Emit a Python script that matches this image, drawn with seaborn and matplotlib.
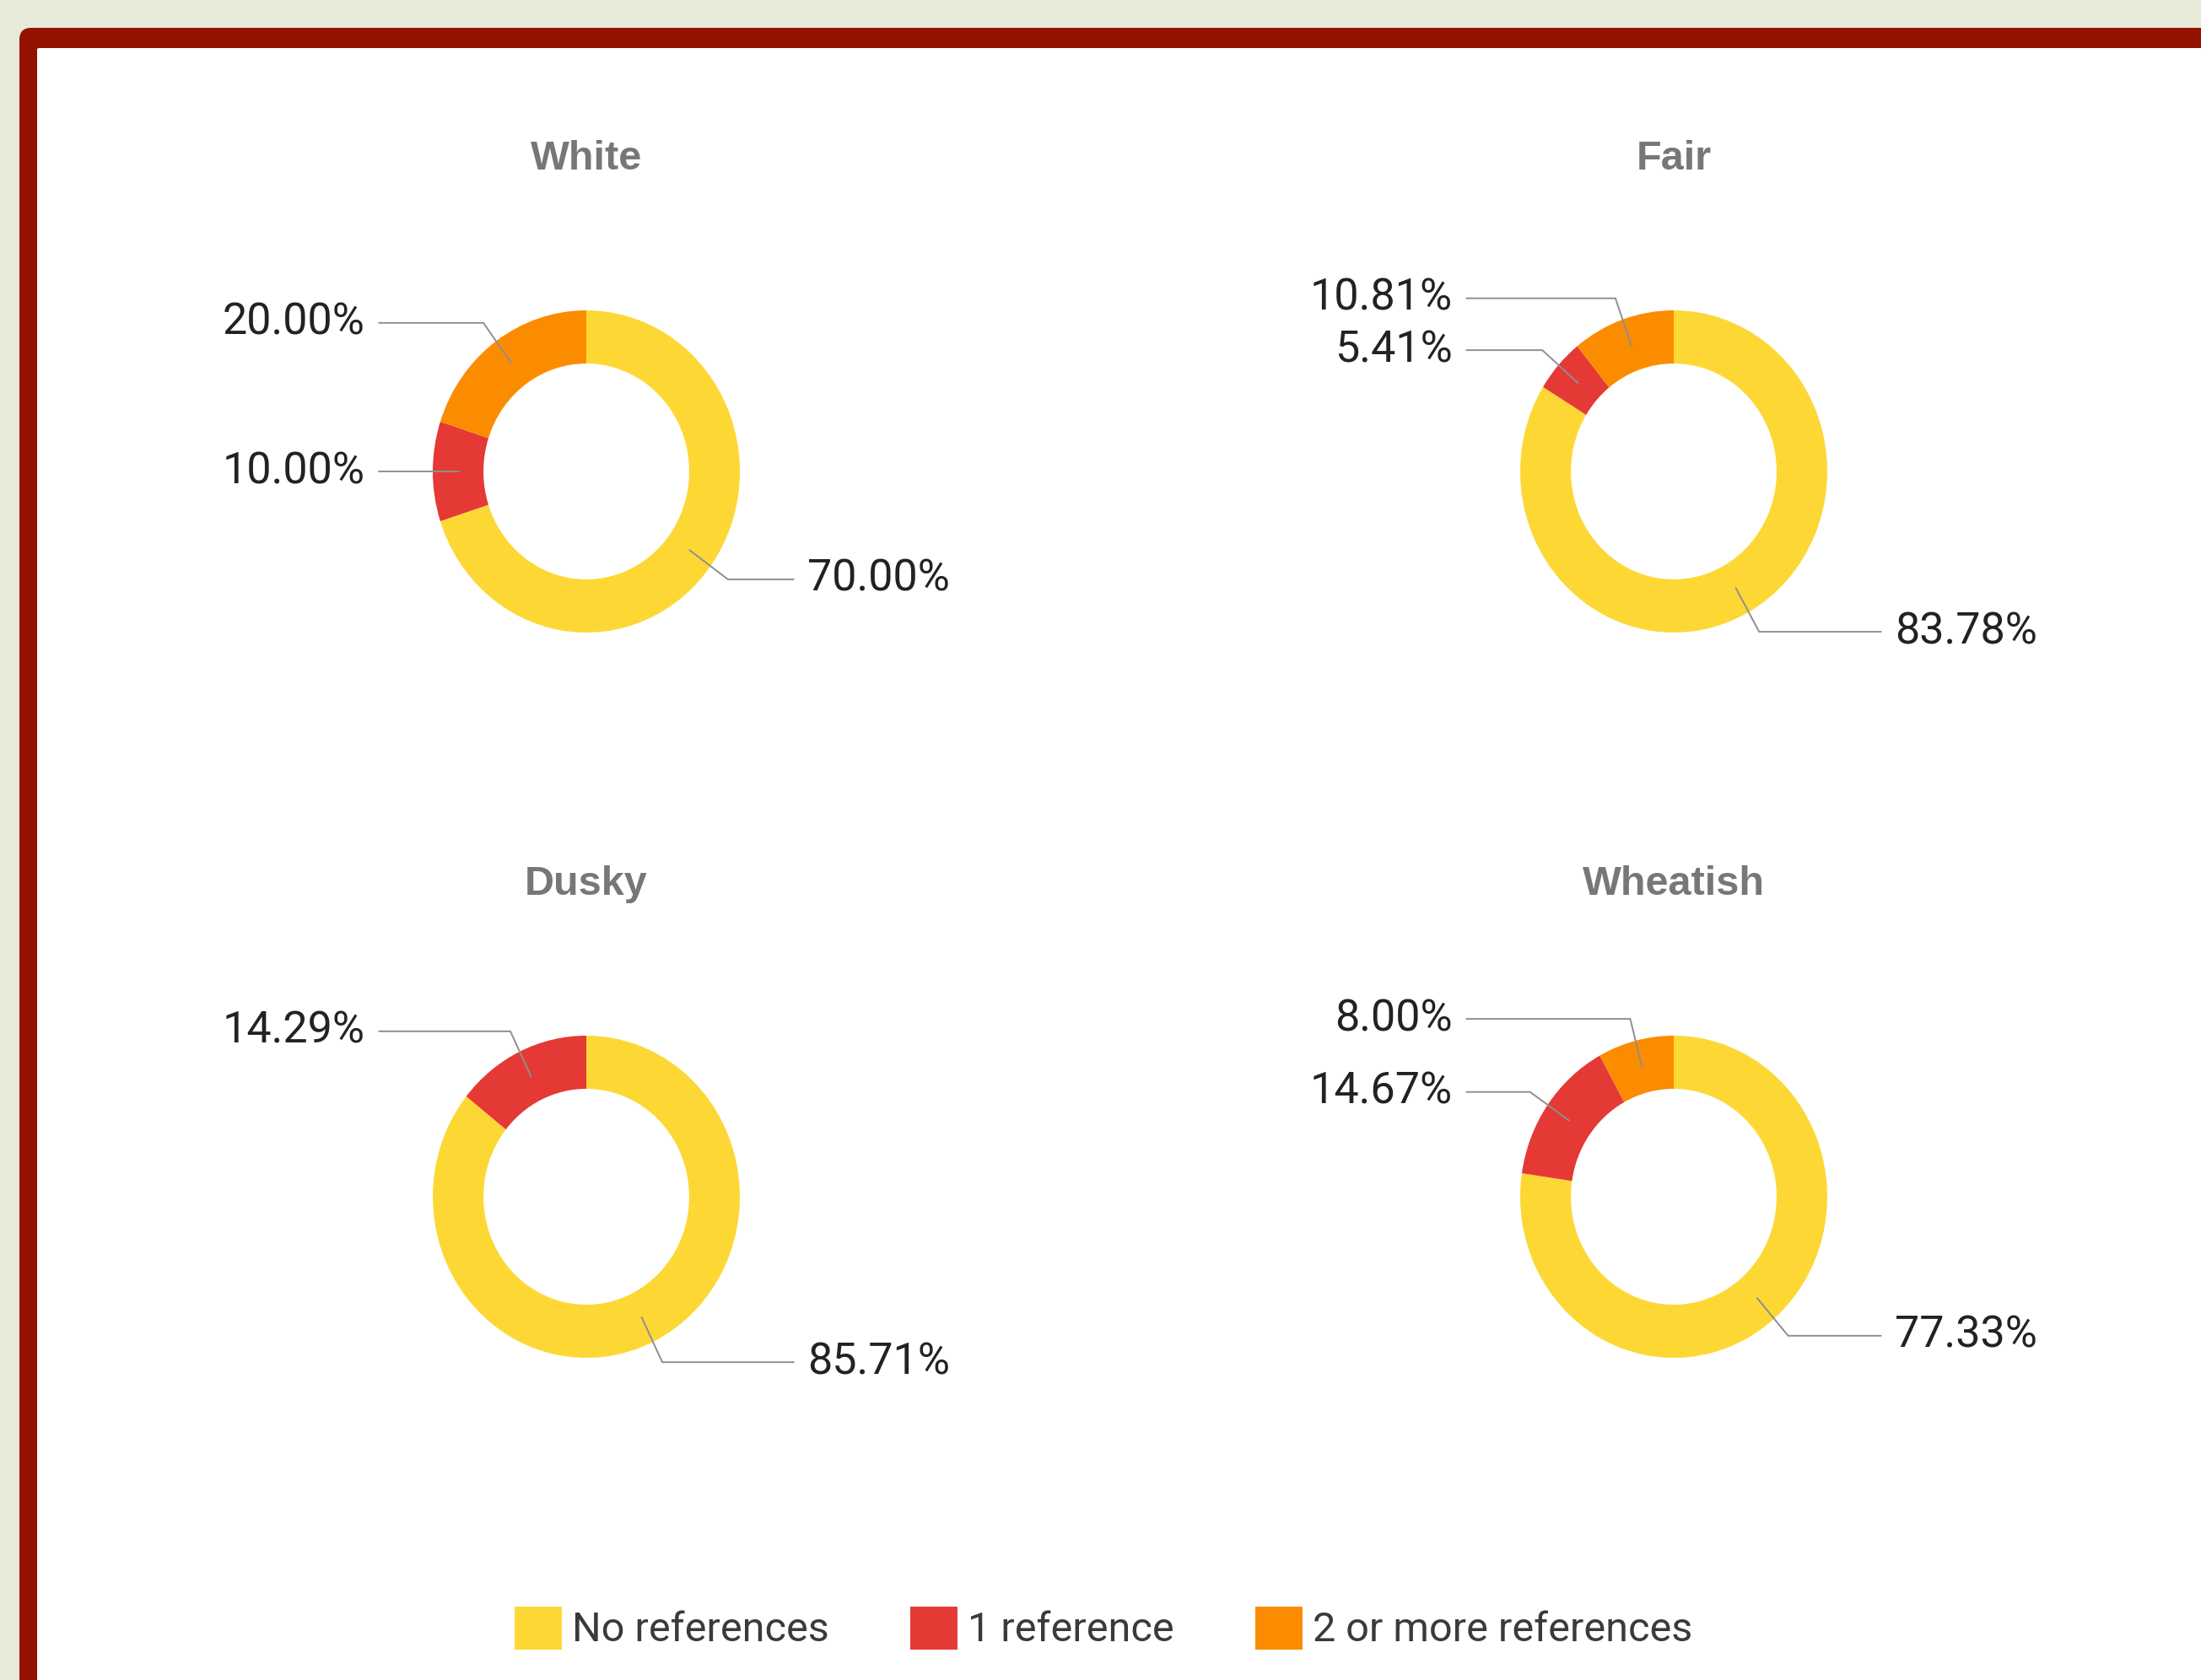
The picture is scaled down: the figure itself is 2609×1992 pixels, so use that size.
import numpy as np
import matplotlib.pyplot as plt
import seaborn as sns
from matplotlib.patches import FancyBboxPatch, Patch

# data
groups = ['White', 'Fair', 'Dusky', 'Wheatish']
categories = ['No references', '1 reference', '2 or more references']
no_refs = [70.00, 83.78, 85.71, 77.33]
one_ref = [10.00, 5.41, 14.29, 14.67]
two_plus = [20.00, 10.81, 0.00, 8.00]

colors = sns.color_palette(['#FDD835', '#E53935', '#FB8C00'])

sns.set_style('white')
plt.rcParams['font.family'] = ['Liberation Sans Narrow', 'Roboto', 'DejaVu Sans']

W, H = 2609, 1992
fig = plt.figure(figsize=(W / 100, H / 100), dpi=100)
fig.patch.set_facecolor('#E9E9DA')

# background frame (pixel coords)
bg = fig.add_axes([0, 0, 1, 1])
bg.set_xlim(0, W)
bg.set_ylim(H, 0)
bg.axis('off')
bg.add_patch(FancyBboxPatch((23, 33), 3000, 2500, boxstyle='round,pad=0,rounding_size=14',
                            facecolor='#941200', edgecolor='none'))
bg.add_patch(FancyBboxPatch((44, 57), 3000, 2500, boxstyle='round,pad=0,rounding_size=2',
                            facecolor='white', edgecolor='none'))

# donut centers and radii in pixels
centers = [(695, 559), (1984, 559), (695, 1419), (1984, 1419)]
rx, ry = 182, 191

for i, name in enumerate(groups):
    cx, cy = centers[i]
    ax = fig.add_axes([(cx - rx) / W, 1 - (cy + ry) / H, 2 * rx / W, 2 * ry / H])
    vals = [no_refs[i], one_ref[i], two_plus[i]]
    ax.pie(vals, colors=colors, startangle=90, counterclock=False, radius=1,
           wedgeprops=dict(width=0.33, linewidth=0))
    ax.set_aspect('auto')
    ax.set_xlim(-1, 1)
    ax.set_ylim(-1, 1)
    ax.axis('off')

    ax.text(0, 1.94, name, ha='center', va='center', fontsize=35, fontweight='bold',
            color='#777777', family=['Liberation Sans', 'DejaVu Sans'])

    # labels with leader lines
    cum = 0
    for v in vals:
        if v <= 0:
            continue
        theta = np.radians(360 * (cum + v / 2) / 100)
        cum += v
        sx, sy = np.sin(theta), np.cos(theta)
        side = 1 if sx >= 0 else -1
        p0 = (0.83 * sx, 0.83 * sy)
        p1 = (1.14 * sx, 1.14 * sy)
        p2 = (1.35 * side, p1[1])
        ax.plot([p0[0], p1[0], p2[0]], [p0[1], p1[1], p2[1]], color='#8f8f8f',
                linewidth=1.4, clip_on=False, solid_joinstyle='miter')
        ax.text(1.44 * side, p1[1], f'{v:.2f}%', ha='left' if side > 0 else 'right',
                va='center', fontsize=37.5, color='#222222', clip_on=False)

handles = [Patch(facecolor=c, edgecolor=c, linewidth=5, joinstyle='round') for c in colors]
fig.legend(handles, categories, loc='center', bbox_to_anchor=(0.502, 0.030), ncol=3,
           frameon=False, fontsize=35, handlelength=1.0, handleheight=1.0,
           handletextpad=0.33, columnspacing=2.05, labelcolor='#3a3a3a')

fig.savefig('out.png', dpi=100, facecolor=fig.get_facecolor())
